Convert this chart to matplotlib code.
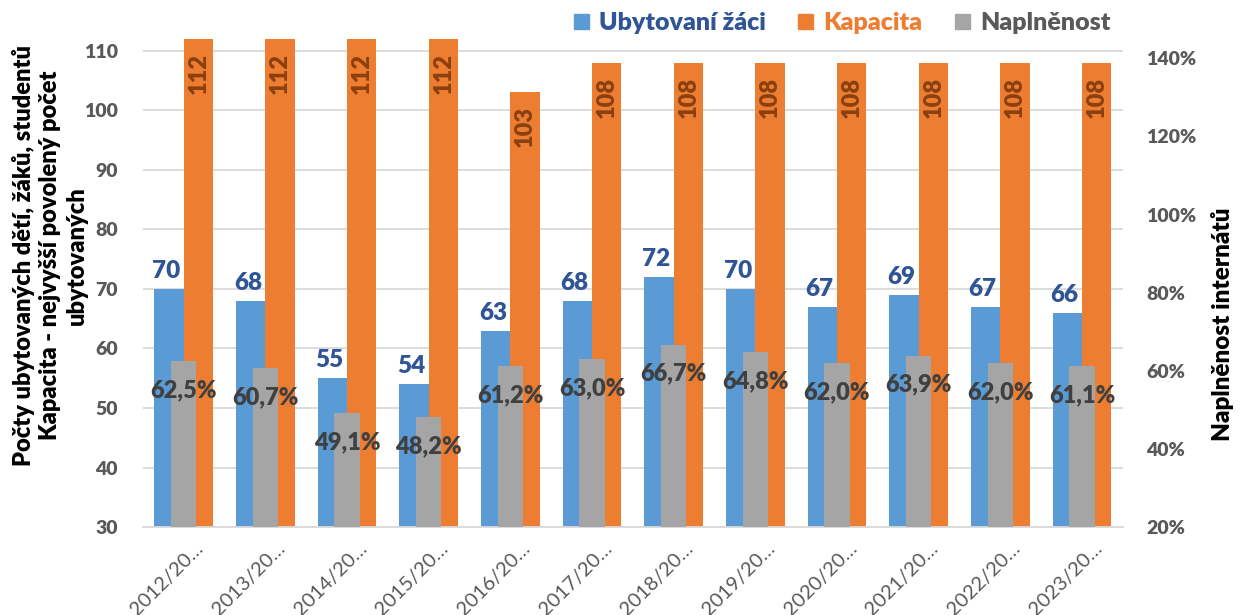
import numpy as np
import matplotlib.pyplot as plt
from matplotlib.patches import Patch
from matplotlib.transforms import ScaledTranslation

plt.rcParams['font.family'] = ['Lato', 'DejaVu Sans']

years = ['2012/20…', '2013/20…', '2014/20…', '2015/20…', '2016/20…', '2017/20…',
         '2018/20…', '2019/20…', '2020/20…', '2021/20…', '2022/20…', '2023/20…']
ubytovani = [70, 68, 55, 54, 63, 68, 72, 70, 67, 69, 67, 66]
kapacita = [112, 112, 112, 112, 103, 108, 108, 108, 108, 108, 108, 108]
naplnenost = [62.5, 60.7, 49.1, 48.2, 61.2, 63.0, 66.7, 64.8, 62.0, 63.9, 62.0, 61.1]

c_blue = '#5B9BD5'
c_orange = '#ED7D31'
c_gray = '#A5A5A5'
c_tick = '#595959'
HEAVY = 800

fig = plt.figure(figsize=(12.42, 6.15), dpi=100)
ax = fig.add_axes([0.115, 0.143, 0.789, 0.794])
ax2 = ax.twinx()

x = np.arange(len(years))
w = 0.36
b1 = ax.bar(x - w / 2, ubytovani, w, color=c_blue, zorder=2)
b2 = ax.bar(x + w / 2, kapacita, w, color=c_orange, zorder=2)
b3 = ax2.bar(x, np.array(naplnenost) / 100, 0.31, color=c_gray, zorder=2)

ax.set_ylim(30, 112)
ax.set_xlim(-0.5, len(years) - 0.5)
ax.set_yticks(range(30, 111, 10))
ax.grid(axis='y', color='#D9D9D9', linewidth=1.3, zorder=0)
ax2.set_ylim(0.2, 1.45)
pct_ticks = np.arange(0.2, 1.41, 0.2)
ax2.set_yticks(pct_ticks)
ax2.set_yticklabels([f'{int(round(v * 100))}%' for v in pct_ticks])

for a in (ax, ax2):
    for s in a.spines.values():
        s.set_visible(False)
    a.tick_params(length=0, labelsize=14, colors=c_tick)
    for t in a.get_yticklabels():
        t.set_fontweight(HEAVY)
ax.spines['bottom'].set_visible(True)
ax.spines['bottom'].set_color('#D9D9D9')
ax.spines['bottom'].set_linewidth(1.3)
ax.tick_params(axis='y', pad=18)
ax2.tick_params(axis='y', pad=17)

ax.set_xticks(x)
ax.set_xticklabels(years, rotation=45, ha='right', rotation_mode='anchor',
                   fontsize=14.5, color=c_tick)
ax.tick_params(axis='x', pad=9)
shift = ScaledTranslation(8 / 72, 0, fig.dpi_scale_trans)
for lbl in ax.get_xticklabels():
    lbl.set_transform(lbl.get_transform() + shift)

# value labels
for r, v in zip(b1, ubytovani):
    ax.annotate(str(v), (r.get_x() + r.get_width() / 2, v), xytext=(-2, 5),
                textcoords='offset points', ha='center', va='bottom',
                fontsize=17.5, fontweight=HEAVY, color='#2F5597')
for r, v in zip(b2, kapacita):
    ax.annotate(str(v), (r.get_x() + r.get_width() / 2, min(v, 112)), xytext=(0, -10),
                textcoords='offset points', ha='center', va='top', rotation=90,
                fontsize=17, fontweight=HEAVY, color='#8B4010')
for r, v in zip(b3, naplnenost):
    ax2.annotate(f'{v:.1f}%'.replace('.', ','), (r.get_x() + r.get_width() / 2, v / 100),
                 xytext=(0, -13), textcoords='offset points', ha='center', va='top',
                 fontsize=17, fontweight=HEAVY, color='#404040')

# axis titles
fig.text(0.040, 0.585, 'Počty ubytovaných dětí, žáků, studentů\nKapacita - nejvyšší povolený počet\nubytovaných',
         rotation=90, ha='center', va='center', multialignment='center',
         fontsize=17, fontweight=HEAVY, color='black', linespacing=1.25)
fig.text(0.984, 0.472, 'Naplněnost internátů', rotation=90, ha='center', va='center',
         fontsize=17.5, fontweight=HEAVY, color='black')

handles = [Patch(color=c_blue), Patch(color=c_orange), Patch(color=c_gray)]
leg = fig.legend(handles, ['Ubytovaní žáci', 'Kapacita', 'Naplněnost'], ncol=3,
                 loc='center', bbox_to_anchor=(0.678, 0.962), frameon=False,
                 prop={'size': 18, 'weight': HEAVY}, handlelength=0.6, handleheight=0.6,
                 handletextpad=0.4, columnspacing=1.3)
for t, c in zip(leg.get_texts(), ['#2F5597', c_orange, c_tick]):
    t.set_color(c)

fig.savefig('out.png', dpi=100)
